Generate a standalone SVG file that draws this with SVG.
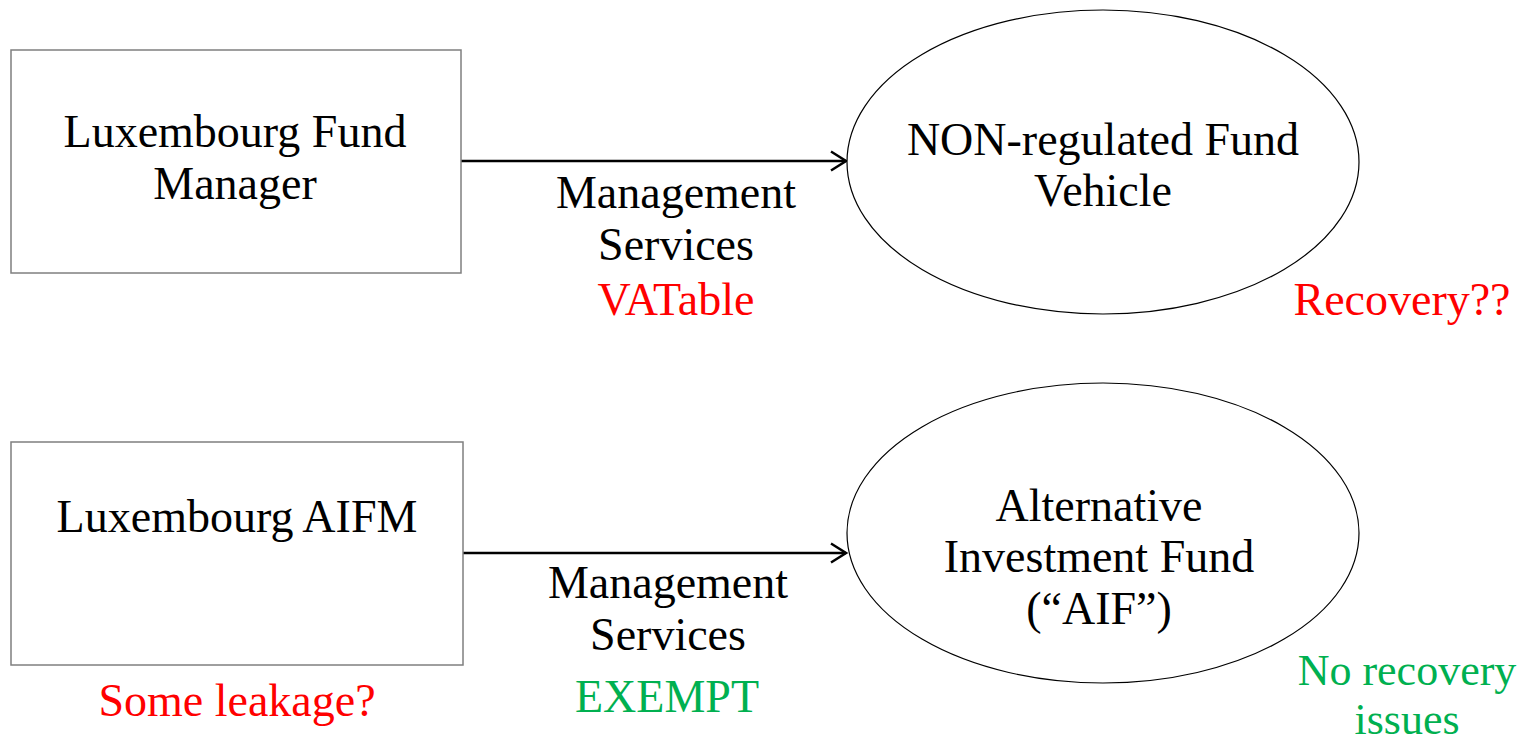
<svg xmlns="http://www.w3.org/2000/svg" width="1537" height="741" viewBox="0 0 1537 741">
  <defs>
    <marker id="arrow" viewBox="0 0 18 22" refX="16.5" refY="11" markerWidth="18" markerHeight="22" markerUnits="userSpaceOnUse" orient="auto">
      <path d="M1.5,1.5 L16.5,11 L1.5,20.5" fill="none" stroke="#000" stroke-width="2.4"/>
    </marker>
    <style>
      text { font-family: "Liberation Serif", "Times New Roman", serif; font-size: 46px; text-anchor: middle; fill: #000; }
      .box { fill: #fff; stroke: #7f7f7f; stroke-width: 1.5; }
      .oval { fill: #fff; stroke: #000; stroke-width: 1.2; }
      .link { stroke: #000; stroke-width: 2.4; fill: none; marker-end: url(#arrow); }
      .red { fill: #ff0000; }
      .green { fill: #00b050; }
      .note { font-size: 44px; }
    </style>
  </defs>
  <rect width="1537" height="741" fill="#fff"/>

  <g id="connectors">
    <line class="link" x1="461" y1="161" x2="846" y2="161"/>
    <line class="link" x1="463" y1="553" x2="846" y2="553"/>
  </g>

  <g id="fund-manager">
    <rect class="box" x="11" y="50" width="450" height="223"/>
    <text x="235" y="147">Luxembourg Fund</text>
    <text x="235" y="199">Manager</text>
  </g>

  <g id="non-regulated-fund">
    <ellipse class="oval" cx="1103" cy="162" rx="256" ry="152"/>
    <text x="1103" y="155">NON-regulated Fund</text>
    <text x="1103" y="206">Vehicle</text>
  </g>

  <g id="aifm">
    <rect class="box" x="11" y="442" width="452" height="223"/>
    <text x="237" y="532">Luxembourg AIFM</text>
  </g>

  <g id="aif">
    <ellipse class="oval" cx="1103" cy="533" rx="256" ry="150"/>
    <text x="1099" y="521">Alternative</text>
    <text x="1099" y="572">Investment Fund</text>
    <text x="1099" y="624">(“AIF”)</text>
  </g>

  <g id="labels">
    <text x="676" y="208">Management</text>
    <text x="676" y="260">Services</text>
    <text class="red" x="676" y="315">VATable</text>
    <text class="red" x="1402" y="315">Recovery??</text>
    <text x="668" y="598">Management</text>
    <text x="668" y="650">Services</text>
    <text class="green" x="667" y="712">EXEMPT</text>
    <text class="red" x="237" y="716">Some leakage?</text>
    <text class="green note" x="1407" y="685">No recovery</text>
    <text class="green note" x="1407" y="734">issues</text>
  </g>
</svg>
